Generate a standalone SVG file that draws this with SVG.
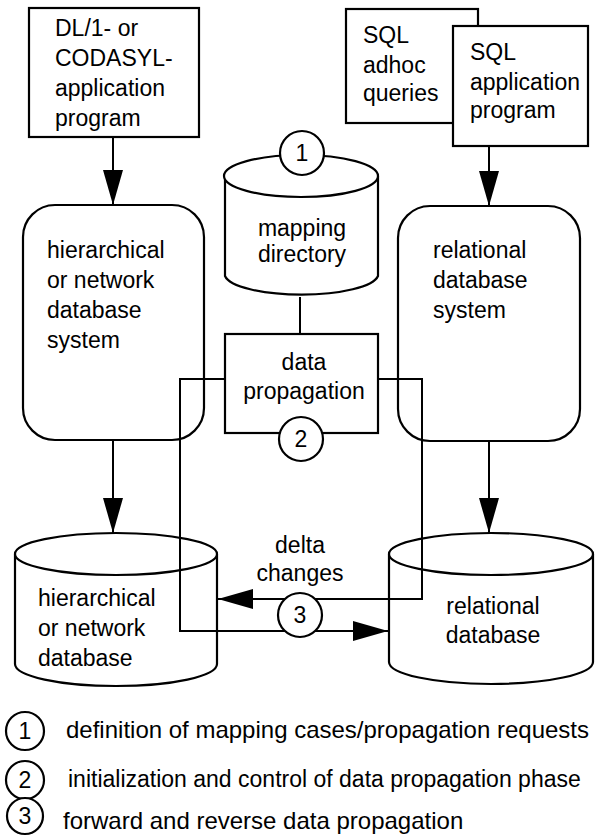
<svg xmlns="http://www.w3.org/2000/svg" width="595" height="836" viewBox="0 0 595 836">
<style>
.s{fill:#fff;stroke:#000;stroke-width:2.2}
.t{font-family:"Liberation Sans",Arial,sans-serif;font-size:23px;fill:#000}
.g{font-size:24px}
.c{text-anchor:middle}
.l{fill:none;stroke:#000;stroke-width:2}
</style>
<defs>
<marker id="ah" markerUnits="userSpaceOnUse" markerWidth="36" markerHeight="20" refX="35" refY="10" orient="auto">
<path d="M0,0 L35,10 L0,20 z" fill="#000"/>
</marker>
</defs>
<rect width="595" height="836" fill="#fff"/>

<g id="dl1-app">
<rect class="s" x="29" y="8" width="170" height="129"/>
<text class="t" x="55" y="36">DL/1- or</text>
<text class="t" x="55" y="66">CODASYL-</text>
<text class="t" x="55" y="96">application</text>
<text class="t" x="55" y="126">program</text>
</g>

<g id="sql-adhoc">
<rect class="s" x="346" y="9" width="132" height="114"/>
<text class="t" x="363" y="43">SQL</text>
<text class="t" x="363" y="73">adhoc</text>
<text class="t" x="363" y="101">queries</text>
</g>

<g id="sql-app">
<rect class="s" x="453" y="26" width="135" height="120"/>
<text class="t" x="470" y="60">SQL</text>
<text class="t" x="470" y="90">application</text>
<text class="t" x="470" y="118">program</text>
</g>

<g id="hier-dbs">
<rect class="s" x="23" y="205" width="181" height="235" rx="32" ry="32"/>
<text class="t" x="47" y="258">hierarchical</text>
<text class="t" x="47" y="288">or network</text>
<text class="t" x="47" y="318">database</text>
<text class="t" x="47" y="348">system</text>
</g>

<g id="rel-dbs">
<rect class="s" x="398" y="206" width="182" height="235" rx="32" ry="32"/>
<text class="t" x="433" y="258">relational</text>
<text class="t" x="433" y="288">database</text>
<text class="t" x="433" y="318">system</text>
</g>

<g id="mapping-directory">
<path class="s" d="M225,176 L225,276 A77,21 0 0 0 378,276 L378,176"/>
<ellipse class="s" cx="301" cy="176" rx="77" ry="21"/>
<text class="t c" x="302" y="236">mapping</text>
<text class="t c" x="302" y="262">directory</text>
</g>

<g id="data-propagation">
<rect class="s" x="225" y="334" width="153" height="99"/>
<text class="t c" x="304" y="370">data</text>
<text class="t c" x="304" y="399">propagation</text>
</g>

<g id="hier-db">
<path class="s" d="M15,554 L15,664 A101,22 0 0 0 217,664 L217,554"/>
<ellipse class="s" cx="116" cy="554" rx="101" ry="21"/>
<text class="t" x="38" y="606">hierarchical</text>
<text class="t" x="38" y="636">or network</text>
<text class="t" x="38" y="666">database</text>
</g>

<g id="rel-db">
<path class="s" d="M389,554 L389,662 A102,22 0 0 0 593,662 L593,554"/>
<ellipse class="s" cx="491" cy="554" rx="102" ry="21"/>
<text class="t c" x="493" y="614">relational</text>
<text class="t c" x="493" y="643">database</text>
</g>

<g id="connectors">
<line class="l" x1="113" y1="137" x2="113" y2="205" marker-end="url(#ah)"/>
<line class="l" x1="489" y1="146" x2="489" y2="206" marker-end="url(#ah)"/>
<line class="l" x1="113" y1="440" x2="113" y2="533" marker-end="url(#ah)"/>
<line class="l" x1="489" y1="441" x2="489" y2="533" marker-end="url(#ah)"/>
<line class="l" x1="300" y1="297" x2="300" y2="334"/>
<polyline class="l" points="378,379 422,379 422,599 218,599" marker-end="url(#ah)"/>
<polyline class="l" points="225,379 180,379 180,631 388,631" marker-end="url(#ah)"/>
</g>

<g id="label-delta">
<text class="t c" x="300" y="553">delta</text>
<text class="t c" x="300" y="581">changes</text>
</g>

<g id="circle-1">
<circle class="s" cx="302" cy="153" r="22"/>
<text class="t c" x="302" y="161">1</text>
</g>
<g id="circle-2">
<circle class="s" cx="301" cy="439" r="22"/>
<text class="t c" x="301" y="447">2</text>
</g>
<g id="circle-3">
<circle class="s" cx="300" cy="615" r="22"/>
<text class="t c" x="300" y="623">3</text>
</g>

<g id="legend">
<circle class="s" cx="25" cy="731" r="19"/>
<text class="t c" x="25" y="739">1</text>
<text class="t g" x="66" y="738">definition of mapping cases/propagation requests</text>
<circle class="s" cx="25" cy="780" r="19"/>
<text class="t c" x="25" y="788">2</text>
<text class="t" x="68" y="787">initialization and control of data propagation phase</text>
<circle class="s" cx="25" cy="816" r="18"/>
<text class="t c" x="25" y="824">3</text>
<text class="t g" x="63" y="829">forward and reverse data propagation</text>
</g>
</svg>
